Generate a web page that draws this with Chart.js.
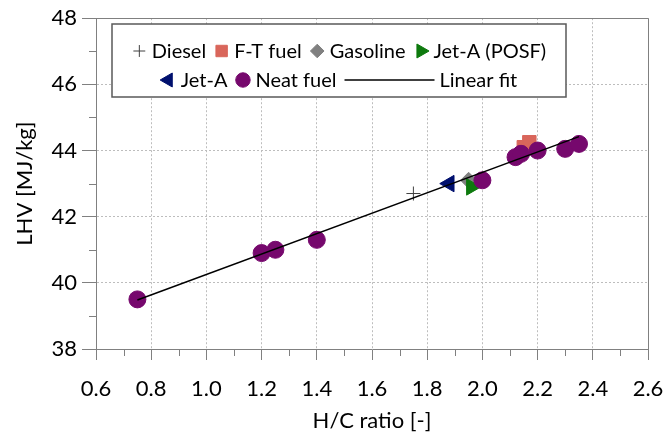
<!DOCTYPE html>
<html>
<head>
<meta charset="utf-8">
<script src="https://cdn.jsdelivr.net/npm/chart.js@4.4.1/dist/chart.umd.min.js"></script>
<style>
    html, body { margin: 0; padding: 0; background: #fff; }
</style>
</head>
<body>
<canvas id="lhv" width="666" height="436"></canvas>
<script>
// Poder calorífico inferior (LHV) frente a la relación H/C de cada combustible
const dieselHC = [1.75];
const dieselLHV = [42.7];
const ftHC = [2.15, 2.17];
const ftLHV = [44.1, 44.25];
const gasolinaHC = [1.95];
const gasolinaLHV = [43.1];
const jetaPosfHC = [1.96];
const jetaPosfLHV = [42.9];
const jetaHC = [1.88];
const jetaLHV = [43.0];
const neatHC = [0.75, 1.2, 1.25, 1.4, 2.0, 2.12, 2.14, 2.2, 2.3, 2.35];
const neatLHV = [39.5, 40.9, 41.0, 41.3, 43.1, 43.8, 43.9, 44.0, 44.05, 44.2];
// extremos de la recta de ajuste
const ajusteHC = [0.75, 2.35];
const ajusteLHV = [39.48, 44.42];

const fuente = 'Lato, "Open Sans", sans-serif';
const colorEje = '#808080';
const colorGrid = '#bdbdbd';

const puntos = (xs, ys) => xs.map((x, i) => ({ x, y: ys[i] }));

// ticks menores a mitad de camino entre los mayores
const ticksMenores = {
    id: 'ticksMenores',
    afterDraw(chart) {
        const { ctx, chartArea } = chart;
        const { x, y } = chart.scales;
        const largo = 7;
        ctx.save();
        ctx.strokeStyle = colorEje;
        ctx.lineWidth = 1;
        ctx.beginPath();
        for (let i = 0; i < x.ticks.length - 1; i++) {
            const px = Math.round(x.getPixelForValue((x.ticks[i].value + x.ticks[i + 1].value) / 2)) + 0.5;
            ctx.moveTo(px, chartArea.bottom);
            ctx.lineTo(px, chartArea.bottom + largo);
        }
        for (let i = 0; i < y.ticks.length - 1; i++) {
            const py = Math.round(y.getPixelForValue((y.ticks[i].value + y.ticks[i + 1].value) / 2)) + 0.5;
            ctx.moveTo(chartArea.left, py);
            ctx.lineTo(chartArea.left - largo, py);
        }
        ctx.stroke();
        ctx.restore();
    }
};

// marco superior y derecho del área de datos
const marco = {
    id: 'marco',
    beforeDatasetsDraw(chart) {
        const { ctx, chartArea } = chart;
        const l = Math.round(chartArea.left) + 0.5;
        const r = Math.round(chartArea.right) + 0.5;
        const t = Math.round(chartArea.top) + 0.5;
        const b = Math.round(chartArea.bottom) + 0.5;
        ctx.save();
        ctx.strokeStyle = colorEje;
        ctx.lineWidth = 1;
        ctx.beginPath();
        ctx.moveTo(l, t);
        ctx.lineTo(r, t);
        ctx.lineTo(r, b);
        ctx.stroke();
        ctx.restore();
    }
};

// leyenda en recuadro dentro del área, en dos filas
const leyenda = {
    id: 'leyenda',
    afterDraw(chart) {
        const { ctx } = chart;
        const filas = [[0, 1, 2, 3], [4, 5, 6]];
        const caja = { left: 112, top: 24, right: 566, bottom: 97 };
        const yFilas = [51, 80];
        const anchoMarca = 15;
        const anchoLinea = 90;
        const sep = 5;
        const sepItem = 8;

        ctx.save();
        ctx.fillStyle = '#fff';
        ctx.fillRect(caja.left, caja.top, caja.right - caja.left, caja.bottom - caja.top);
        ctx.strokeStyle = '#595959';
        ctx.lineWidth = 1.5;
        ctx.strokeRect(caja.left, caja.top, caja.right - caja.left, caja.bottom - caja.top);

        ctx.font = '20px ' + fuente;
        ctx.textBaseline = 'middle';
        ctx.textAlign = 'left';

        filas.forEach((fila, f) => {
            const items = fila.map((i) => {
                const ds = chart.data.datasets[i];
                const marca = ds.showLine ? anchoLinea : anchoMarca;
                return { ds, marca, texto: ctx.measureText(ds.label).width };
            });
            let total = 0;
            items.forEach((it) => { total += it.marca + sep + it.texto; });
            total += sepItem * (items.length - 1);
            let x = (caja.left + caja.right) / 2 - total / 2;
            const y = yFilas[f];
            for (let it of items) {
                const ds = it.ds;
                if (ds.showLine) {
                    ctx.strokeStyle = ds.borderColor;
                    ctx.lineWidth = ds.borderWidth;
                    ctx.beginPath();
                    ctx.moveTo(x, y);
                    ctx.lineTo(x + it.marca, y);
                    ctx.stroke();
                } else {
                    ctx.fillStyle = ds.backgroundColor;
                    ctx.strokeStyle = ds.borderColor;
                    ctx.lineWidth = ds.borderWidth;
                    Chart.helpers.drawPoint(ctx, {
                        pointStyle: ds.pointStyle,
                        rotation: ds.rotation || 0,
                        radius: ds.pointRadius * 0.85,
                        borderWidth: ds.borderWidth
                    }, x + it.marca / 2, y);
                }
                x += it.marca + sep;
                ctx.fillStyle = '#000';
                ctx.fillText(ds.label, x, y + 1);
                x += it.texto + sepItem;
            }
        });
        ctx.restore();
    }
};

const datasets = [
    {
        label: 'Diesel', data: puntos(dieselHC, dieselLHV),
        pointStyle: 'cross', pointRadius: 7, borderWidth: 1,
        borderColor: '#404040', backgroundColor: 'rgba(0,0,0,0)', order: 6
    },
    {
        label: 'F-T fuel', data: puntos(ftHC, ftLHV),
        pointStyle: 'rect', pointRadius: 9.5, borderWidth: 1,
        borderColor: '#d9665b', backgroundColor: '#d9665b', order: 5
    },
    {
        label: 'Gasoline', data: puntos(gasolinaHC, gasolinaLHV),
        pointStyle: 'rectRot', pointRadius: 8, borderWidth: 1,
        borderColor: '#808080', backgroundColor: '#808080', order: 4
    },
    {
        label: 'Jet-A (POSF)', data: puntos(jetaPosfHC, jetaPosfLHV),
        pointStyle: 'triangle', rotation: 90, pointRadius: 9.5, borderWidth: 1,
        borderColor: '#0e7a0e', backgroundColor: '#0e7a0e', order: 3
    },
    {
        label: 'Jet-A', data: puntos(jetaHC, jetaLHV),
        pointStyle: 'triangle', rotation: -90, pointRadius: 9.5, borderWidth: 1,
        borderColor: '#00106e', backgroundColor: '#00106e', order: 2
    },
    {
        label: 'Neat fuel', data: puntos(neatHC, neatLHV),
        pointStyle: 'circle', pointRadius: 8.5, borderWidth: 1,
        borderColor: '#76086d', backgroundColor: '#76086d', order: 1
    },
    {
        label: 'Linear fit', data: puntos(ajusteHC, ajusteLHV),
        showLine: true, pointRadius: 0, borderWidth: 1.5,
        borderColor: '#000', backgroundColor: '#000', order: 0
    }
];

new Chart(document.getElementById('lhv'), {
    type: 'scatter',
    data: { datasets },
    options: {
        responsive: false,
        animation: false,
        events: [],
        devicePixelRatio: 1,
        layout: { padding: { top: 17, right: 18, left: 0, bottom: 0 } },
        plugins: {
            legend: { display: false },
            tooltip: { enabled: false }
        },
        scales: {
            x: {
                min: 0.6,
                max: 2.6,
                // alto fijo y sin reservar hueco extra para la última etiqueta
                afterFit: (scale) => {
                    scale.height = 87;
                    scale.paddingLeft = 0;
                    scale.paddingRight = 0;
                },
                ticks: {
                    stepSize: 0.2,
                    maxRotation: 0,
                    autoSkip: false,
                    padding: 16,
                    color: '#000',
                    font: { family: fuente, size: 22 },
                    callback: (v) => v.toFixed(1)
                },
                grid: {
                    color: colorGrid,
                    tickColor: colorEje,
                    tickLength: 11,
                    tickBorderDash: []
                },
                // en v4 el patrón punteado de la rejilla va en border.dash
                border: { color: colorEje, width: 1, dash: [2, 2] },
                title: {
                    display: true,
                    text: 'H/C ratio [-]',
                    color: '#000',
                    font: { family: fuente, size: 22 },
                    padding: { top: 0, bottom: 2 }
                }
            },
            y: {
                min: 38,
                max: 48,
                afterFit: (scale) => { scale.width = 96; },
                ticks: {
                    stepSize: 2,
                    padding: 5,
                    color: '#000',
                    font: { family: fuente, size: 22 },
                    callback: (v) => v.toFixed(0)
                },
                grid: {
                    color: colorGrid,
                    tickColor: colorEje,
                    tickLength: 14,
                    tickBorderDash: []
                },
                border: { color: colorEje, width: 1, dash: [2, 2] },
                title: {
                    display: true,
                    text: 'LHV [MJ/kg]',
                    color: '#000',
                    font: { family: fuente, size: 22 },
                    padding: { top: 12, bottom: 0 }
                }
            }
        }
    },
    plugins: [marco, ticksMenores, leyenda]
});
</script>
</body>
</html>
